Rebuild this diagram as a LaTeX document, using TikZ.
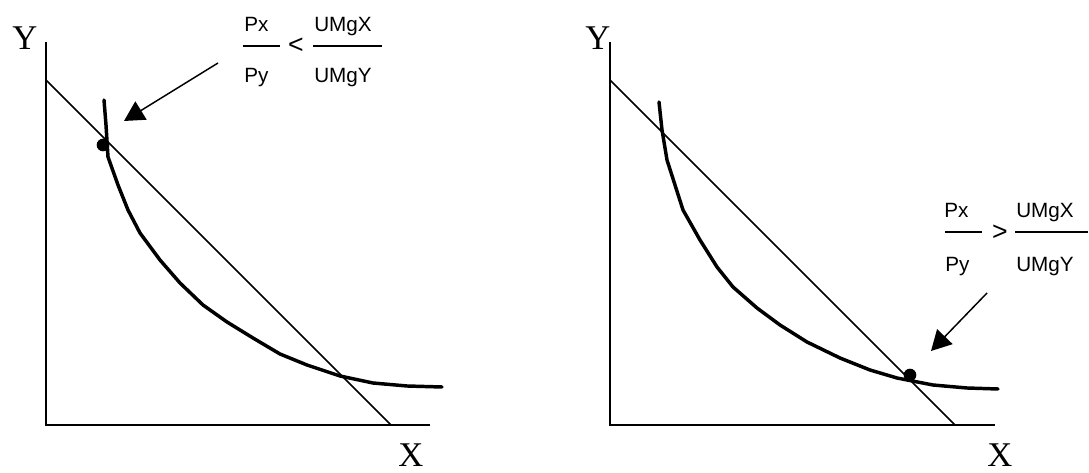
\documentclass[tikz,border=0pt]{standalone}
\usepackage{fontspec}
\setmainfont{Liberation Serif}
\newfontfamily\ratiofont{Liberation Sans}
\usepackage{tikz}
\usetikzlibrary{arrows.meta}
\tikzset{
    axis/.style={line width=1.7pt},
    budget/.style={line width=1.1pt},
    icurve/.style={line width=2.6pt, line join=round, line cap=round},
    optdot/.style={circle, fill=black, inner sep=0pt, minimum size=9.5pt},
    axlabel/.style={font=\fontsize{26}{28}\selectfont, inner sep=0pt, anchor=base west},
    ratio/.style={font=\ratiofont\fontsize{15.5}{17}\selectfont, inner sep=0pt, anchor=base west},
    relsign/.style={font=\ratiofont\fontsize{20}{22}\selectfont, inner sep=0pt},
    fracbar/.style={line width=1.3pt},
    pointer/.style={line width=1.1pt, -{Triangle[length=15pt, width=16pt]}},
}

\begin{document}
\begin{tikzpicture}[x=0.75pt, y=-0.75pt]
\useasboundingbox (0,0) rectangle (1089,473);

% ---------------- LEFT PANEL: Px/Py < UMgX/UMgY ----------------
\draw[axis] (46,42) -- (46,425) -- (430,425);
\node[axlabel] (lYlbl) at (12,50) {Y};
\node[axlabel] (lXlbl) at (398,467) {X};

% budget line
\draw[budget] (46,80) -- (391,425);
% indifference curve
\draw[icurve] plot coordinates {(104,100) (106,125) (108,157) (118,185)
  (128,210) (140,233) (160,260) (180,283) (203,305) (227,322) (253,338)
  (280,354) (307,365) (340,376) (373,383) (407,386) (442,387)};
\node[optdot] (lDot) at (103,145) {};

% ratio label
\node[ratio] (lPx)   at (244,32) {Px};
\node[ratio] (lPy)   at (244,83) {Py};
\node[relsign] (lLess) at (296,46) {<};
\node[ratio] (lUMgX) at (314,32) {UMgX};
\node[ratio] (lUMgY) at (314,83) {UMgY};
\draw[fracbar] (243,46) -- (280,46);
\draw[fracbar] (313,46) -- (382,46);

% pointer
\coordinate (lTail) at (218,63);
\coordinate (lHead) at (124,121);
\draw[pointer] (lTail) -- (lHead);

% ---------------- RIGHT PANEL: Px/Py > UMgX/UMgY ----------------
\draw[axis] (610,42) -- (610,425) -- (995,425);
\node[axlabel] (rYlbl) at (585,50) {Y};
\node[axlabel] (rXlbl) at (987,467) {X};

% budget line
\draw[budget] (610,80) -- (955,425);
% indifference curve
\draw[icurve] plot coordinates {(659,102) (662,130) (667,160) (675,185)
  (683,210) (700,240) (717,267) (733,287) (757,308) (780,325) (807,342)
  (840,358) (870,370) (897,378) (933,385) (967,388) (998,389)};
\node[optdot] (rDot) at (910,375) {};

% ratio label
\node[ratio] (rPx)   at (944,218) {Px};
\node[ratio] (rPy)   at (945,272) {Py};
\node[relsign] (rMore) at (1000,233) {>};
\node[ratio] (rUMgX) at (1016,218) {UMgX};
\node[ratio] (rUMgY) at (1016,272) {UMgY};
\draw[fracbar] (945,232) -- (982,232);
\draw[fracbar] (1015,232) -- (1088,232);

% pointer
\coordinate (rTail) at (987,293);
\coordinate (rHead) at (931,351);
\draw[pointer] (rTail) -- (rHead);

\end{tikzpicture}
\end{document}
